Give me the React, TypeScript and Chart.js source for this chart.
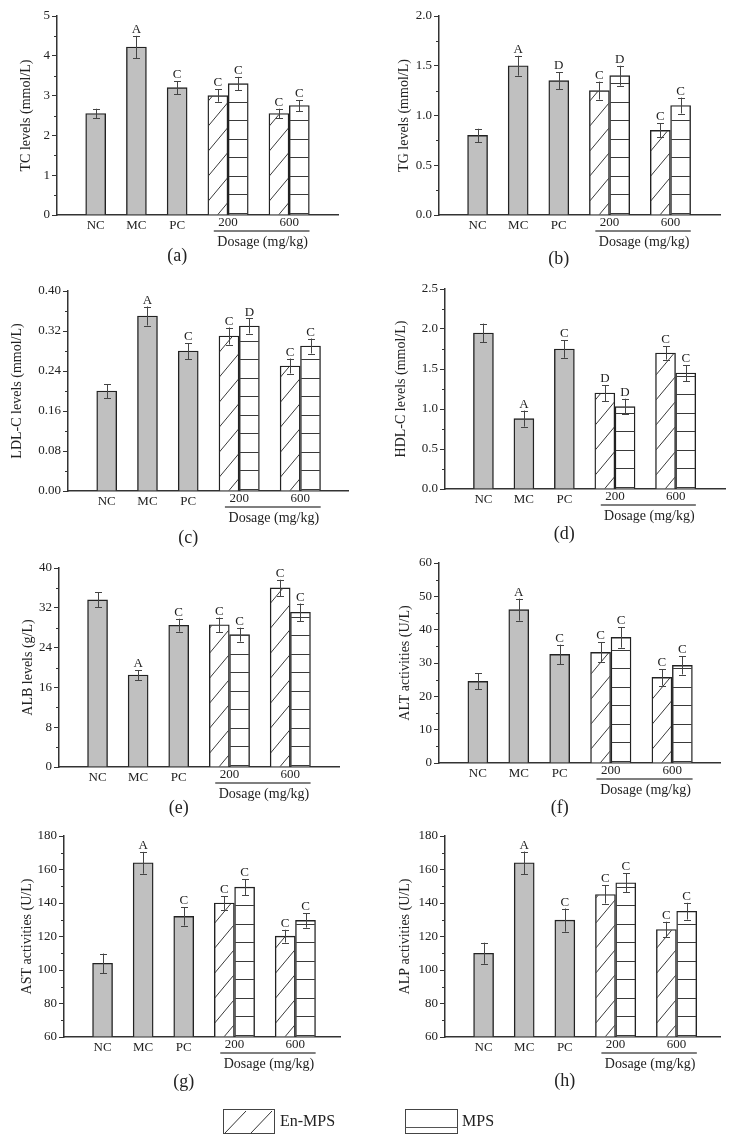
import React, { useEffect, useRef } from 'react';
import { Chart, registerables } from 'chart.js';

Chart.register(...registerables);

const FONT = "'Liberation Serif', 'Times New Roman', Times, serif";
const INK = '#222';

// ---- categories / labels ----
const groupLabels = ['NC', 'MC', 'PC'];
const doseLabels = ['200', '600'];
const dosageTitle = 'Dosage (mg/kg)';
const legendLabels = ['En-MPS', 'MPS'];

// category positions on the (linear) x value axis
const groupPos = [0, 1, 2];
const enPos = [3, 4.5];
const mpsPos = [3.5, 5];
const dosePos = [3.25, 4.75];

// ---- values: order NC, MC, PC, En-MPS 200, MPS 200, En-MPS 600, MPS 600 ----
const tcMeans = [2.55, 4.22, 3.2, 3.0, 3.3, 2.55, 2.75];
const tcErrors = [0.12, 0.28, 0.16, 0.155, 0.17, 0.12, 0.14];
const tcLetters = ['', 'A', 'C', 'C', 'C', 'C', 'C'];
const tcTicks = ['0', '1', '2', '3', '4', '5'];

const tgMeans = [0.8, 1.5, 1.35, 1.25, 1.4, 0.85, 1.1];
const tgErrors = [0.067, 0.1, 0.085, 0.09, 0.1, 0.07, 0.08];
const tgLetters = ['', 'A', 'D', 'C', 'D', 'C', 'C'];
const tgTicks = ['0.0', '0.5', '1.0', '1.5', '2.0'];

const ldlMeans = [0.2, 0.35, 0.28, 0.31, 0.33, 0.25, 0.29];
const ldlErrors = [0.014, 0.019, 0.016, 0.017, 0.015, 0.015, 0.015];
const ldlLetters = ['', 'A', 'C', 'C', 'D', 'C', 'C'];
const ldlTicks = ['0.00', '0.08', '0.16', '0.24', '0.32', '0.40'];

const hdlMeans = [1.95, 0.88, 1.75, 1.2, 1.03, 1.7, 1.45];
const hdlErrors = [0.117, 0.1, 0.11, 0.1, 0.098, 0.083, 0.1];
const hdlLetters = ['', 'A', 'C', 'D', 'D', 'C', 'C'];
const hdlTicks = ['0.0', '0.5', '1.0', '1.5', '2.0', '2.5'];

const albMeans = [33.6, 18.5, 28.5, 28.6, 26.6, 36.0, 31.1];
const albErrors = [1.5, 1.0, 1.3, 1.45, 1.4, 1.64, 1.75];
const albLetters = ['', 'A', 'C', 'C', 'C', 'C', 'C'];
const albTicks = ['0', '8', '16', '24', '32', '40'];

const altMeans = [24.5, 46.0, 32.6, 33.2, 37.7, 25.7, 29.3];
const altErrors = [2.4, 3.3, 2.9, 3.0, 3.1, 2.5, 2.75];
const altLetters = ['', 'A', 'C', 'C', 'C', 'C', 'C'];
const altTicks = ['0', '10', '20', '30', '40', '50', '60'];

const astMeans = [104, 164, 132, 140, 149.5, 120.2, 129.6];
const astErrors = [5.8, 6.5, 5.5, 4.1, 4.7, 3.8, 4.3];
const astLetters = ['', 'A', 'C', 'C', 'C', 'C', 'C'];
const astTicks = ['60', '80', '100', '120', '140', '160', '180'];

const alpMeans = [110, 164, 129.8, 145.1, 152.1, 124.2, 135.1];
const alpErrors = [6.3, 6.7, 6.9, 5.4, 5.6, 4.6, 5.0];
const alpLetters = ['', 'A', 'C', 'C', 'C', 'C', 'C'];
const alpTicks = ['60', '80', '100', '120', '140', '160', '180'];

const panels = [
  { tag: '(a)', title: 'TC levels (mmol/L)', means: tcMeans, errors: tcErrors, letters: tcLetters, ticks: tcTicks },
  { tag: '(b)', title: 'TG levels (mmol/L)', means: tgMeans, errors: tgErrors, letters: tgLetters, ticks: tgTicks },
  { tag: '(c)', title: 'LDL-C levels (mmol/L)', means: ldlMeans, errors: ldlErrors, letters: ldlLetters, ticks: ldlTicks },
  { tag: '(d)', title: 'HDL-C levels (mmol/L)', means: hdlMeans, errors: hdlErrors, letters: hdlLetters, ticks: hdlTicks },
  { tag: '(e)', title: 'ALB levels (g/L)', means: albMeans, errors: albErrors, letters: albLetters, ticks: albTicks },
  { tag: '(f)', title: 'ALT activities (U/L)', means: altMeans, errors: altErrors, letters: altLetters, ticks: altTicks },
  { tag: '(g)', title: 'AST activities (U/L)', means: astMeans, errors: astErrors, letters: astLetters, ticks: astTicks },
  { tag: '(h)', title: 'ALP activities (U/L)', means: alpMeans, errors: alpErrors, letters: alpLetters, ticks: alpTicks },
];

// ---- layout (pixels) ----
const layouts = [
  { col: 0, axisX: 57, right: 338, top: 16, bottom: 215, titleX: 26, xMax: 5.95, labelDy: 41 },
  { col: 368, axisX: 71, right: 352, top: 16, bottom: 215, titleX: 36, xMax: 5.97, labelDy: 44 },
  { col: 0, axisX: 68, right: 348, top: 291, bottom: 491, titleX: 17, xMax: 5.92, labelDy: 47 },
  { col: 368, axisX: 77, right: 357, top: 289, bottom: 489, titleX: 33, xMax: 5.97, labelDy: 45 },
  { col: 0, axisX: 59, right: 339, top: 568, bottom: 767, titleX: 28, xMax: 5.95, labelDy: 41 },
  { col: 368, axisX: 71, right: 352, top: 563, bottom: 763, titleX: 37, xMax: 5.92, labelDy: 45 },
  { col: 0, axisX: 64, right: 340, top: 836, bottom: 1037, titleX: 27, xMax: 5.85, labelDy: 45 },
  { col: 368, axisX: 77, right: 352, top: 836, bottom: 1037, titleX: 37, xMax: 5.82, labelDy: 44 },
];
const X_MIN = -0.95;
const UNDERLINE_FROM = 2.9;
const UNDERLINE_TO = 5.25;
const DOSAGE_CENTER = 4.1;

const decorPlugin: any = {
  id: 'decor',
  afterDatasetsDraw(chart: any) {
    const ctx = chart.ctx;
    const area = chart.chartArea;
    const ys = chart.scales.y;
    chart.data.datasets.forEach((ds: any, di: number) => {
      const meta = chart.getDatasetMeta(di);
      meta.data.forEach((bar: any, i: number) => {
        const { x, y, base, width } = bar.getProps(['x', 'y', 'base', 'width'], true);
        const b = Math.min(base, area.bottom);
        const x0 = x - width / 2;
        const h = b - y;
        if (ds.hatch !== 'none') {
          ctx.save();
          ctx.beginPath();
          ctx.rect(x0 + 0.7, y + 0.7, width - 1.4, h - 0.7);
          ctx.clip();
          ctx.strokeStyle = '#3a3a3a';
          ctx.lineWidth = 1;
          ctx.beginPath();
          if (ds.hatch === 'diag') {
            const slope = 1.2;
            const gap = 25;
            for (let c = -slope * width / 2; c < h + gap; c += gap) {
              ctx.moveTo(x0, b - c);
              ctx.lineTo(x0 + width, b - c - slope * width);
            }
          } else {
            for (let yy = b - 2; yy > y; yy -= 18.5) {
              const py = Math.round(yy) + 0.5;
              ctx.moveTo(x0, py);
              ctx.lineTo(x0 + width, py);
            }
          }
          ctx.stroke();
          ctx.restore();
        }
        const v = ds.data[i].y;
        const e = ds.errors[i];
        const yt = ys.getPixelForValue(v + e);
        const yb = ys.getPixelForValue(v - e);
        const cx = Math.round(x) + 0.5;
        ctx.save();
        ctx.strokeStyle = '#444';
        ctx.lineWidth = 1;
        ctx.beginPath();
        ctx.moveTo(cx, yt);
        ctx.lineTo(cx, yb);
        ctx.moveTo(cx - 3.5, Math.round(yt) + 0.5);
        ctx.lineTo(cx + 3.5, Math.round(yt) + 0.5);
        ctx.moveTo(cx - 3.5, Math.round(yb) + 0.5);
        ctx.lineTo(cx + 3.5, Math.round(yb) + 0.5);
        ctx.stroke();
        const letter = ds.letters[i];
        if (letter) {
          ctx.fillStyle = INK;
          ctx.font = `13px ${FONT}`;
          ctx.textAlign = 'center';
          ctx.textBaseline = 'alphabetic';
          ctx.fillText(letter, x, yt - 3);
        }
        ctx.restore();
      });
    });
  },
  afterDraw(chart: any, _args: any, opts: any) {
    const ctx = chart.ctx;
    const area = chart.chartArea;
    const xs = chart.scales.x;
    const ys = chart.scales.y;
    ctx.save();
    // minor ticks
    ctx.strokeStyle = '#333';
    ctx.lineWidth = 1;
    ctx.beginPath();
    opts.minor.forEach((v: number) => {
      const py = Math.round(ys.getPixelForValue(v)) + 0.5;
      ctx.moveTo(area.left - 3, py);
      ctx.lineTo(area.left, py);
    });
    ctx.stroke();
    // dosage group labels
    ctx.fillStyle = INK;
    ctx.textAlign = 'center';
    ctx.textBaseline = 'middle';
    ctx.font = `13px ${FONT}`;
    doseLabels.forEach((t, k) => ctx.fillText(t, xs.getPixelForValue(dosePos[k]), area.bottom + 8));
    ctx.strokeStyle = '#555';
    ctx.lineWidth = 1.5;
    ctx.beginPath();
    ctx.moveTo(xs.getPixelForValue(UNDERLINE_FROM), area.bottom + 16);
    ctx.lineTo(xs.getPixelForValue(UNDERLINE_TO), area.bottom + 16);
    ctx.stroke();
    ctx.font = `14px ${FONT}`;
    ctx.fillText(dosageTitle, xs.getPixelForValue(DOSAGE_CENTER), area.bottom + 27);
    ctx.font = `18px ${FONT}`;
    ctx.fillText(opts.tag, xs.getPixelForValue(groupPos[2]), area.bottom + opts.labelDy);
    ctx.restore();
  },
};

function Panel({ p, l }: { p: any; l: any }) {
  const ref = useRef<HTMLCanvasElement>(null);
  const canvasTop = l.top - 12;
  const H = l.bottom - canvasTop + 62;
  useEffect(() => {
    if (!ref.current) return;
    const yVals = p.ticks.map((t: string) => parseFloat(t));
    const yMin = yVals[0];
    const yMax = yVals[yVals.length - 1];
    const minor: number[] = [];
    for (let k = 0; k < yVals.length - 1; k++) minor.push((yVals[k] + yVals[k + 1]) / 2);
    const common = { borderColor: '#222', borderWidth: 1.4, barThickness: 20, grouped: false, base: yMin };
    const datasets: any[] = [
      {
        ...common,
        label: 'control',
        data: groupPos.map((x, k) => ({ x, y: p.means[k] })),
        errors: p.errors.slice(0, 3),
        letters: p.letters.slice(0, 3),
        hatch: 'none',
        backgroundColor: '#c0c0c0',
      },
      {
        ...common,
        label: legendLabels[0],
        data: enPos.map((x, k) => ({ x, y: p.means[3 + 2 * k] })),
        errors: [p.errors[3], p.errors[5]],
        letters: [p.letters[3], p.letters[5]],
        hatch: 'diag',
        backgroundColor: '#ffffff',
      },
      {
        ...common,
        label: legendLabels[1],
        data: mpsPos.map((x, k) => ({ x, y: p.means[4 + 2 * k] })),
        errors: [p.errors[4], p.errors[6]],
        letters: [p.letters[4], p.letters[6]],
        hatch: 'horiz',
        backgroundColor: '#ffffff',
      },
    ];
    const chart = new Chart(ref.current, {
      type: 'bar',
      data: { datasets },
      plugins: [decorPlugin],
      options: {
        animation: false,
        responsive: false,
        devicePixelRatio: 1,
        events: [],
        layout: { padding: { top: 12, left: 0, right: 368 - l.right, bottom: 0 } },
        plugins: {
          legend: { display: false },
          tooltip: { enabled: false },
          decor: { minor, tag: p.tag, labelDy: l.labelDy },
        },
        scales: {
          x: {
            type: 'linear',
            min: X_MIN,
            max: l.xMax,
            offset: false,
            bounds: 'data',
            afterBuildTicks: (s: any) => {
              s.ticks = groupPos.map((v) => ({ value: v }));
            },
            ticks: {
              callback: (_v: any, i: number) => groupLabels[i],
              font: { family: FONT, size: 13 },
              color: INK,
              padding: 3,
              maxRotation: 0,
              autoSkip: false,
            },
            grid: { display: false, drawTicks: false, offset: false },
            border: { display: true, color: '#333', width: 1.5 },
            afterFit: (s: any) => {
              s.height = H - (l.bottom - canvasTop);
            },
          },
          y: {
            type: 'linear',
            min: yMin,
            max: yMax,
            afterBuildTicks: (s: any) => {
              s.ticks = yVals.map((v: number) => ({ value: v }));
            },
            ticks: {
              callback: (_v: any, i: number) => p.ticks[i],
              font: { family: FONT, size: 13 },
              color: INK,
              padding: 2,
            },
            grid: { drawOnChartArea: false, drawTicks: true, tickLength: 5, color: '#333', lineWidth: 1 },
            border: { display: true, color: '#333', width: 1.5 },
            title: {
              display: true,
              text: p.title,
              font: { family: FONT, size: 14 },
              color: INK,
              padding: { top: l.titleX - 8.4, bottom: 0 },
            },
            afterFit: (s: any) => {
              s.width = l.axisX;
            },
          },
        },
      } as any,
    });
    return () => chart.destroy();
  }, []);
  return (
    <canvas
      ref={ref}
      width={368}
      height={H}
      style={{ position: 'absolute', left: l.col, top: canvasTop, width: 368, height: H }}
    />
  );
}

function Legend() {
  const ref = useRef<HTMLCanvasElement>(null);
  useEffect(() => {
    const c = ref.current;
    if (!c) return;
    const ctx = c.getContext('2d');
    if (!ctx) return;
    ctx.clearRect(0, 0, 736, 47);
    const oy = 1100;
    // En-MPS box
    ctx.strokeStyle = '#444';
    ctx.lineWidth = 1;
    ctx.strokeRect(223.5, 1109.5 - oy, 51, 24);
    ctx.save();
    ctx.beginPath();
    ctx.rect(224, 1110 - oy, 50, 23);
    ctx.clip();
    ctx.beginPath();
    ctx.moveTo(225, 1133 - oy);
    ctx.lineTo(246, 1111 - oy);
    ctx.moveTo(251, 1133 - oy);
    ctx.lineTo(272, 1111 - oy);
    ctx.strokeStyle = '#333';
    ctx.stroke();
    ctx.restore();
    // MPS box
    ctx.strokeStyle = '#444';
    ctx.strokeRect(405.5, 1109.5 - oy, 52, 24);
    ctx.beginPath();
    ctx.moveTo(405.5, 1127.5 - oy);
    ctx.lineTo(457.5, 1127.5 - oy);
    ctx.strokeStyle = '#555';
    ctx.stroke();
    ctx.fillStyle = INK;
    ctx.font = `16px ${FONT}`;
    ctx.textAlign = 'left';
    ctx.textBaseline = 'middle';
    ctx.fillText(legendLabels[0], 280, 1122 - oy);
    ctx.fillText(legendLabels[1], 462, 1122 - oy);
  }, []);
  return (
    <canvas
      ref={ref}
      width={736}
      height={47}
      style={{ position: 'absolute', left: 0, top: 1100, width: 736, height: 47 }}
    />
  );
}

export default function App() {
  return (
    <div style={{ position: 'absolute', left: 0, top: 0, width: 736, height: 1147, background: '#fff', overflow: 'hidden' }}>
      {panels.map((p, i) => (
        <Panel key={p.tag} p={p} l={layouts[i]} />
      ))}
      <Legend />
    </div>
  );
}
